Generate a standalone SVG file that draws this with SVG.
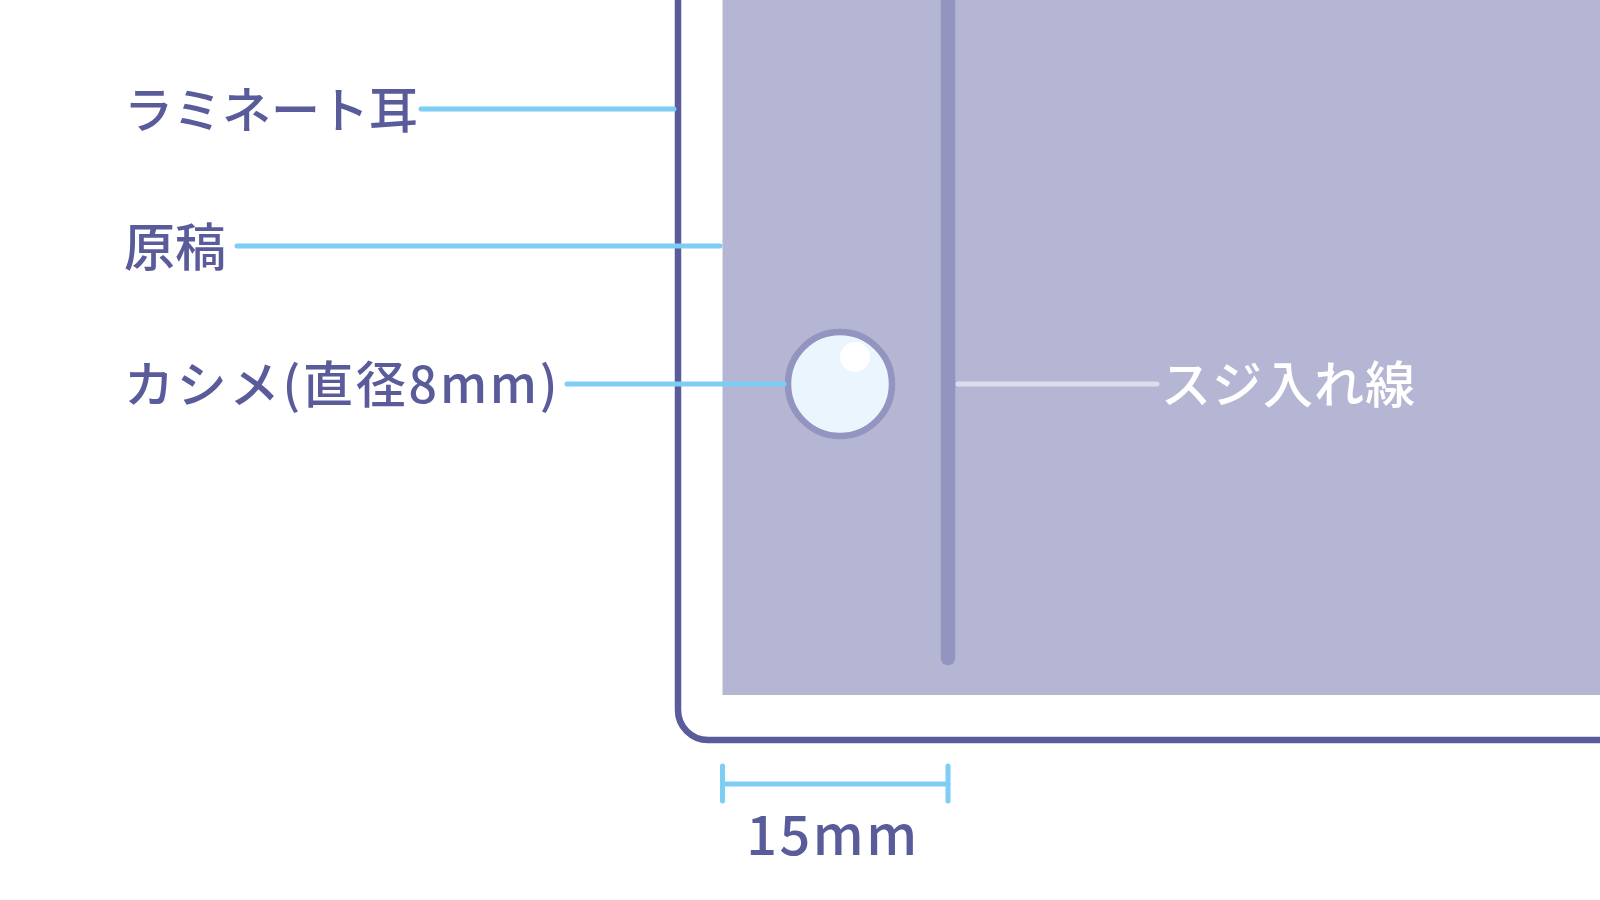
<svg xmlns="http://www.w3.org/2000/svg" width="1600" height="900" viewBox="0 0 1600 900">
<style>
.lbl{font-family:"Noto Sans CJK JP","Noto Sans",sans-serif;font-size:50px;font-weight:500;fill:#5a5b9a}
.wht{font-family:"Noto Sans CJK JP","Noto Sans",sans-serif;font-size:50px;font-weight:500;fill:#ffffff}
.lead{stroke:#7ecdf4;stroke-width:5;stroke-linecap:round;fill:none}
</style>
<rect width="1600" height="900" fill="#ffffff"/>
<g id="laminate">
<rect x="678" y="-60" width="1000" height="800" rx="30" ry="30" fill="#ffffff" stroke="#5a5b9a" stroke-width="6.5"/>
</g>
<g id="genko">
<rect x="722.5" y="-10" width="900" height="705" fill="#b5b6d4"/>
</g>
<g id="suji">
<line x1="948" y1="-20" x2="948" y2="658" stroke="#9394bf" stroke-width="14.5" stroke-linecap="round"/>
</g>
<g id="kashime">
<circle cx="840" cy="384" r="52" fill="#eaf5fd" stroke="#9394bf" stroke-width="6.5"/>
<circle cx="855" cy="357" r="15" fill="#ffffff"/>
</g>
<g id="connectors">
<line class="lead" x1="421" y1="109" x2="674" y2="109"/>
<line class="lead" x1="237" y1="246" x2="720" y2="246"/>
<line class="lead" x1="567" y1="384" x2="784" y2="384"/>
<line x1="958" y1="384" x2="1157" y2="384" stroke="#dcdde9" stroke-width="5" stroke-linecap="round"/>
<g id="dimension" class="lead">
<line x1="722.5" y1="784" x2="948" y2="784"/>
<line x1="722.5" y1="766" x2="722.5" y2="801"/>
<line x1="948" y1="766" x2="948" y2="801"/>
</g>
</g>
<g id="labels">
<text class="lbl" x="124" y="128" style="font-size:49px">ラミネート耳</text>
<text class="lbl" x="124" y="266" style="font-size:51px">原稿</text>
<text class="lbl" x="124" y="403" style="letter-spacing:2.8px">カシメ(直径8mm)</text>
<text class="wht" x="1161" y="403" style="letter-spacing:1px">スジ入れ線</text>
<text class="lbl" x="833" y="855" text-anchor="middle" style="font-size:54px;letter-spacing:2.5px">15mm</text>
</g>
</svg>
